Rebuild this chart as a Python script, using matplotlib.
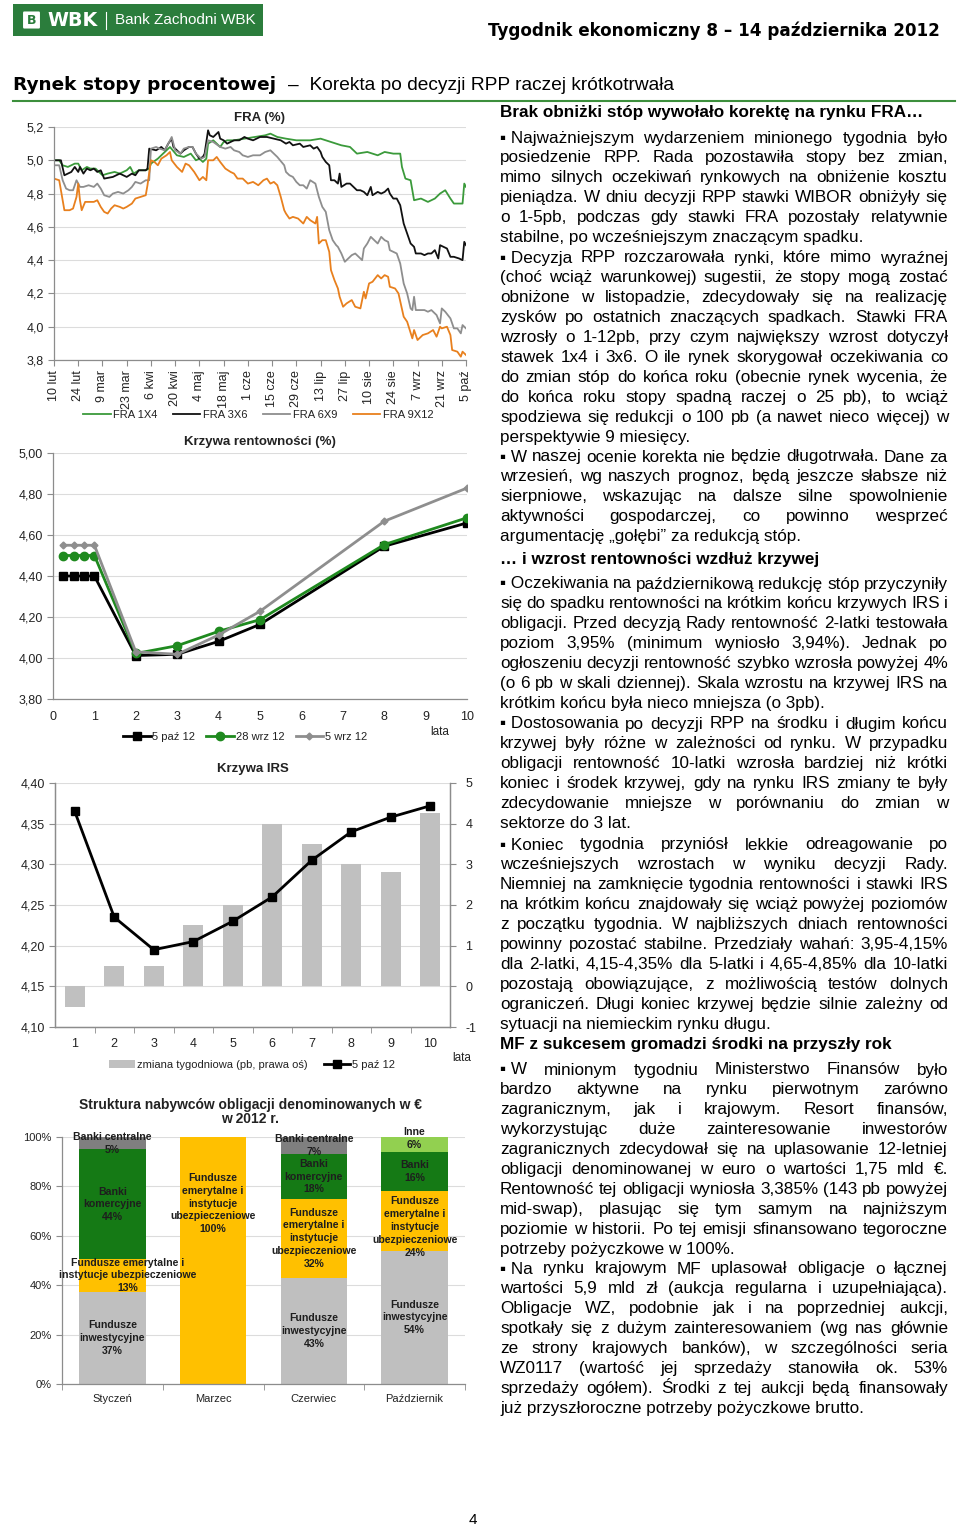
import numpy as np
import matplotlib
matplotlib.use('Agg')
import matplotlib.pyplot as plt
from matplotlib.patches import Rectangle, FancyBboxPatch
from matplotlib.lines import Line2D
from matplotlib.ticker import FuncFormatter

# ---------------- data ----------------
# FRA rates, x = days since 10 Feb 2012
fra_tick_labels = ['10 lut', '24 lut', '9 mar', '23 mar', '6 kwi', '20 kwi', '4 maj', '18 maj',
                   '1 cze', '15 cze', '29 cze', '13 lip', '27 lip', '10 sie', '24 sie',
                   '7 wrz', '21 wrz', '5 paź']

fra1x4_days = [0, 3, 5, 8, 12, 14, 16, 19, 21, 24,
               26, 28, 31, 35, 38, 42, 44, 46, 49, 53,
               55, 56, 60, 64, 67, 71, 75, 79, 82, 84,
               86, 88, 89, 92, 96, 98, 100, 104, 110, 116,
               122, 125, 129, 134, 140, 148, 154, 160, 166, 171,
               175, 181, 187, 191, 196, 200, 201, 203, 206, 208,
               212, 216, 220, 223, 226, 229, 231, 236, 237, 238]
fra1x4 = [5.00, 5.00, 4.97, 4.96, 4.98, 4.98, 4.94, 4.96, 4.95, 4.95,
          4.93, 4.91, 4.92, 4.93, 4.92, 4.94, 4.96, 4.92, 4.94, 4.94,
          4.95, 4.98, 5.01, 5.05, 5.08, 5.03, 5.02, 5.04, 5.00, 5.01,
          4.99, 5.01, 5.10, 5.12, 5.08, 5.11, 5.12, 5.12, 5.13, 5.14,
          5.15, 5.16, 5.14, 5.13, 5.12, 5.12, 5.13, 5.11, 5.09, 5.08,
          5.04, 5.05, 5.03, 5.05, 5.04, 5.04, 4.96, 4.89, 4.88, 4.76,
          4.77, 4.75, 4.77, 4.80, 4.82, 4.77, 4.74, 4.74, 4.86, 4.84]

fra3x6_days = [0, 4, 6, 10, 12, 14, 15, 17, 19, 21,
               23, 25, 27, 29, 34, 38, 42, 45, 47, 49,
               53, 54, 55, 59, 62, 64, 66, 68, 69, 71,
               73, 75, 78, 80, 82, 84, 86, 87, 89, 90,
               92, 95, 96, 98, 100, 102, 104, 107, 110, 112,
               115, 119, 123, 127, 131, 134, 136, 138, 142, 144,
               148, 150, 152, 154, 155, 157, 159, 160, 162, 164,
               165, 166, 169, 171, 173, 175, 177, 179, 181, 183,
               184, 187, 189, 191, 193, 194, 196, 198, 200, 202,
               204, 206, 208, 209, 212, 214, 216, 218, 220, 222,
               223, 225, 227, 229, 231, 234, 236, 237, 238]
fra3x6 = [5.00, 5.00, 4.91, 4.93, 4.96, 4.93, 4.96, 4.92, 4.95, 4.94,
          4.95, 4.93, 4.94, 4.89, 4.90, 4.92, 4.90, 4.92, 4.91, 4.94,
          4.94, 4.95, 5.07, 5.06, 5.08, 5.06, 5.10, 5.13, 5.08, 5.06,
          5.04, 5.06, 5.08, 5.08, 5.04, 5.01, 5.02, 5.04, 5.18, 5.15,
          5.14, 5.17, 5.13, 5.12, 5.10, 5.11, 5.12, 5.12, 5.14, 5.13,
          5.12, 5.14, 5.14, 5.13, 5.12, 5.10, 5.11, 5.09, 5.10, 5.08,
          5.09, 5.07, 5.08, 5.05, 5.02, 4.99, 4.97, 4.88, 4.88, 4.86,
          4.92, 4.84, 4.86, 4.86, 4.84, 4.82, 4.82, 4.81, 4.79, 4.84,
          4.79, 4.81, 4.80, 4.81, 4.83, 4.80, 4.77, 4.77, 4.73, 4.62,
          4.56, 4.50, 4.48, 4.44, 4.44, 4.43, 4.44, 4.44, 4.46, 4.41,
          4.49, 4.48, 4.47, 4.42, 4.42, 4.41, 4.40, 4.51, 4.49]

fra6x9_days = [0, 3, 5, 7, 9, 11, 13, 15, 17, 20,
               23, 25, 27, 29, 32, 34, 37, 40, 43, 45,
               47, 50, 53, 55, 56, 59, 61, 64, 66, 68,
               70, 73, 75, 78, 80, 82, 85, 87, 89, 92,
               96, 99, 102, 104, 107, 109, 112, 115, 119, 122,
               125, 127, 129, 133, 134, 136, 138, 140, 142, 144,
               146, 148, 151, 153, 155, 157, 159, 161, 163, 164,
               166, 168, 170, 172, 174, 176, 178, 179, 181, 183,
               185, 187, 189, 191, 193, 194, 196, 198, 200, 202,
               204, 206, 207, 208, 209, 212, 214, 216, 218, 221,
               223, 224, 226, 229, 231, 233, 235, 236, 238]
fra6x9 = [4.97, 4.97, 4.88, 4.83, 4.82, 4.82, 4.88, 4.84, 4.84, 4.85,
          4.84, 4.86, 4.83, 4.79, 4.78, 4.80, 4.81, 4.80, 4.82, 4.84,
          4.87, 4.86, 4.88, 4.88, 5.07, 5.08, 5.07, 5.06, 5.10, 5.14,
          5.06, 5.04, 5.07, 5.08, 5.08, 5.04, 5.01, 5.02, 5.12, 5.11,
          5.08, 5.07, 5.08, 5.06, 5.05, 5.03, 5.02, 5.03, 5.03, 5.05,
          5.06, 5.04, 5.02, 4.97, 4.93, 4.91, 4.90, 4.87, 4.85, 4.85,
          4.83, 4.88, 4.86, 4.78, 4.72, 4.69, 4.58, 4.52, 4.49, 4.48,
          4.44, 4.39, 4.41, 4.43, 4.44, 4.42, 4.40, 4.47, 4.50, 4.54,
          4.52, 4.50, 4.54, 4.52, 4.51, 4.46, 4.45, 4.44, 4.38, 4.26,
          4.20, 4.11, 4.10, 4.18, 4.10, 4.10, 4.10, 4.09, 4.10, 4.07,
          4.02, 4.11, 4.09, 4.05, 3.99, 3.99, 3.96, 4.01, 3.99]

fra9x12_days = [0, 3, 5, 6, 9, 11, 13, 14, 15, 16,
                18, 20, 23, 25, 27, 29, 31, 33, 35, 38,
                40, 42, 45, 47, 50, 53, 54, 56, 58, 60,
                62, 65, 67, 68, 71, 74, 76, 78, 81, 84,
                86, 88, 89, 92, 94, 96, 99, 102, 104, 106,
                109, 112, 115, 118, 121, 123, 125, 127, 129, 131,
                133, 134, 136, 138, 141, 144, 146, 148, 151, 152,
                153, 155, 157, 159, 160, 162, 164, 165, 167, 169,
                172, 174, 177, 179, 180, 182, 184, 187, 189, 191,
                193, 194, 197, 199, 202, 204, 207, 208, 210, 213,
                216, 219, 221, 223, 224, 227, 229, 230, 233, 235,
                236, 238]
fra9x12 = [4.89, 4.88, 4.76, 4.70, 4.70, 4.71, 4.78, 4.86, 4.76, 4.70,
           4.75, 4.75, 4.75, 4.76, 4.72, 4.69, 4.68, 4.71, 4.73, 4.72,
           4.71, 4.72, 4.74, 4.77, 4.78, 4.79, 4.85, 5.00, 4.99, 4.97,
           5.01, 5.03, 5.05, 5.00, 4.96, 4.93, 4.98, 4.97, 4.93, 4.88,
           4.90, 4.88, 5.00, 5.00, 5.02, 4.99, 4.95, 4.93, 4.92, 4.89,
           4.89, 4.86, 4.87, 4.85, 4.88, 4.89, 4.86, 4.87, 4.85, 4.78,
           4.70, 4.68, 4.65, 4.66, 4.65, 4.62, 4.66, 4.64, 4.62, 4.66,
           4.50, 4.52, 4.52, 4.45, 4.34, 4.28, 4.23, 4.18, 4.12, 4.14,
           4.16, 4.12, 4.11, 4.21, 4.17, 4.26, 4.27, 4.31, 4.29, 4.31,
           4.30, 4.24, 4.23, 4.20, 4.06, 4.03, 3.93, 3.98, 3.92, 3.95,
           3.96, 3.98, 3.94, 4.00, 3.99, 4.00, 3.95, 3.86, 3.85, 3.82,
           3.85, 3.83]

# yield curve
yc_years = [0.25, 0.5, 0.75, 1, 2, 3, 4, 5, 8, 10]
yc_5paz = [4.40, 4.40, 4.40, 4.40, 4.012, 4.018, 4.081, 4.164, 4.545, 4.659]
yc_28wrz = [4.50, 4.50, 4.50, 4.50, 4.022, 4.060, 4.130, 4.187, 4.553, 4.684]
yc_5wrz = [4.55, 4.55, 4.55, 4.55, 4.030, 4.018, 4.112, 4.228, 4.667, 4.829]

# IRS curve
irs_years = [1, 2, 3, 4, 5, 6, 7, 8, 9, 10]
irs_5paz = [4.365, 4.235, 4.195, 4.205, 4.230, 4.260, 4.305, 4.340, 4.358, 4.372]
irs_change = [-0.5, 0.5, 0.5, 1.5, 2.0, 4.0, 3.5, 3.0, 2.8, 4.25]

# buyers of EUR bonds
buyer_months = ['Styczeń', 'Marzec', 'Czerwiec', 'Październik']
buyer_groups = ['Fundusze inwestycyjne', 'Fundusze emerytalne i instytucje ubezpieczeniowe',
                'Banki komercyjne', 'Banki centralne', 'Inne']
buyer_shares = [[37, 0, 43, 54],
                [13, 100, 32, 24],
                [44, 0, 18, 16],
                [5, 0, 7, 0],
                [0, 0, 0, 6]]
buyer_labels = [
    ['Fundusze\ninwestycyjne', 'Fundusze emerytalne i\ninstytucje ubezpieczeniowe',
     'Banki\nkomercyjne', 'Banki centralne', ''],
    ['', 'Fundusze\nemerytalne i\ninstytucje\nubezpieczeniowe', '', '', ''],
    ['Fundusze\ninwestycyjne', 'Fundusze\nemerytalne i\ninstytucje\nubezpieczeniowe',
     'Banki\nkomercyjne', 'Banki centralne', ''],
    ['Fundusze\ninwestycyjne', 'Fundusze\nemerytalne i\ninstytucje\nubezpieczeniowe',
     'Banki', '', 'Inne'],
]
buyer_colors = ['#bfbfbf', '#ffc000', '#157a15', '#7f7f7f', '#92d050']

# text column
head1 = 'Brak obniżki stóp wywołało korektę na rynku FRA…'
par1 = ['▪ Najważniejszym wydarzeniem minionego tygodnia było',
        'posiedzenie RPP. Rada pozostawiła stopy bez zmian,',
        'mimo silnych oczekiwań rynkowych na obniżenie kosztu',
        'pieniądza. W dniu decyzji RPP stawki WIBOR obniżyły się',
        'o 1-5pb, podczas gdy stawki FRA pozostały relatywnie',
        'stabilne, po wcześniejszym znaczącym spadku.']
par2 = ['▪ Decyzja RPP rozczarowała rynki, które mimo wyraźnej',
        '(choć wciąż warunkowej) sugestii, że stopy mogą zostać',
        'obniżone w listopadzie, zdecydowały się na realizację',
        'zysków po ostatnich znaczących spadkach. Stawki FRA',
        'wzrosły o 1-12pb, przy czym największy wzrost dotyczył',
        'stawek 1x4 i 3x6. O ile rynek skorygował oczekiwania co',
        'do zmian stóp do końca roku (obecnie rynek wycenia, że',
        'do końca roku stopy spadną raczej o 25 pb), to wciąż',
        'spodziewa się redukcji o 100 pb (a nawet nieco więcej) w',
        'perspektywie 9 miesięcy.']
par3 = ['▪ W naszej ocenie korekta nie będzie długotrwała. Dane za',
        'wrzesień, wg naszych prognoz, będą jeszcze słabsze niż',
        'sierpniowe, wskazując na dalsze silne spowolnienie',
        'aktywności gospodarczej, co powinno wesprzeć',
        'argumentację „gołębi” za redukcją stóp.']
head2 = '… i wzrost rentowności wzdłuż krzywej'
par4 = ['▪ Oczekiwania na październikową redukcję stóp przyczyniły',
        'się do spadku rentowności na krótkim końcu krzywych IRS i',
        'obligacji. Przed decyzją Rady rentowność 2-latki testowała',
        'poziom 3,95% (minimum wyniosło 3,94%). Jednak po',
        'ogłoszeniu decyzji rentowność szybko wzrosła powyżej 4%',
        '(o 6 pb w skali dziennej). Skala wzrostu na krzywej IRS na',
        'krótkim końcu była nieco mniejsza (o 3pb).']
par5 = ['▪ Dostosowania po decyzji RPP na środku i długim końcu',
        'krzywej były różne w zależności od rynku. W przypadku',
        'obligacji rentowność 10-latki wzrosła bardziej niż krótki',
        'koniec i środek krzywej, gdy na rynku IRS zmiany te były',
        'zdecydowanie mniejsze w porównaniu do zmian w',
        'sektorze do 3 lat.']
par6 = ['▪ Koniec tygodnia przyniósł lekkie odreagowanie po',
        'wcześniejszych wzrostach w wyniku decyzji Rady.',
        'Niemniej na zamknięcie tygodnia rentowności i stawki IRS',
        'na krótkim końcu znajdowały się wciąż powyżej poziomów',
        'z początku tygodnia. W najbliższych dniach rentowności',
        'powinny pozostać stabilne. Przedziały wahań: 3,95-4,15%',
        'dla 2-latki, 4,15-4,35% dla 5-latki i 4,65-4,85% dla 10-latki',
        'pozostają obowiązujące, z możliwością testów dolnych',
        'ograniczeń. Długi koniec krzywej będzie silnie zależny od',
        'sytuacji na niemieckim rynku długu.']
head3 = 'MF z sukcesem gromadzi środki na przyszły rok'
par7 = ['▪ W minionym tygodniu Ministerstwo Finansów było',
        'bardzo aktywne na rynku pierwotnym zarówno',
        'zagranicznym, jak i krajowym. Resort finansów,',
        'wykorzystując duże zainteresowanie inwestorów',
        'zagranicznych zdecydował się na uplasowanie 12-letniej',
        'obligacji denominowanej w euro o wartości 1,75 mld €.',
        'Rentowność tej obligacji wyniosła 3,385% (143 pb powyżej',
        'mid-swap), plasując się tym samym na najniższym',
        'poziomie w historii. Po tej emisji sfinansowano tegoroczne',
        'potrzeby pożyczkowe w 100%.']
par8 = ['▪ Na rynku krajowym MF uplasował obligacje o łącznej',
        'wartości 5,9 mld zł (aukcja regularna i uzupełniająca).',
        'Obligacje WZ, podobnie jak i na poprzedniej aukcji,',
        'spotkały się z dużym zainteresowaniem (wg nas głównie',
        'ze strony krajowych banków), w szczególności seria',
        'WZ0117 (wartość jej sprzedaży stanowiła ok. 53%',
        'sprzedaży ogółem). Środki z tej aukcji będą finansowały',
        'już przyszłoroczne potrzeby pożyczkowe brutto.']

# ---------------- page ----------------
plt.rcParams['font.family'] = ['Liberation Sans', 'DejaVu Sans']
plt.rcParams['axes.unicode_minus'] = False
W, H = 960, 1527
fig = plt.figure(figsize=(9.6, 15.27), dpi=100)
fig.patch.set_facecolor('white')
renderer = fig.canvas.get_renderer()


def fx(x):
    return x / W


def fy(y):
    return 1 - y / H


def put(x, y, s, **kw):
    return fig.text(fx(x), fy(y), s, **kw)


def axes_px(l, t, r, b):
    return fig.add_axes([fx(l), fy(b), (r - l) / W, (b - t) / H])


def comma(fmt):
    return FuncFormatter(lambda v, _: fmt.format(v).replace('.', ','))


def fit(t, width):
    w = t.get_window_extent(renderer).width
    t.set_fontsize(t.get_fontsize() * width / w)


GREEN = '#2b7d3c'
TXT = '#222222'
LEG = dict(frameon=False, fontsize=8, labelcolor=TXT)

# header
fig.patches.append(Rectangle((fx(13), fy(36)), 250 / W, 32 / H, transform=fig.transFigure,
                             facecolor=GREEN, edgecolor='none'))
fig.patches.append(FancyBboxPatch((fx(24), fy(27)), 15 / W, 14 / H, transform=fig.transFigure,
                                  boxstyle='round,pad=0.001', facecolor='white', edgecolor='none'))
put(31.5, 20.5, 'B', color=GREEN, fontsize=9, fontweight='bold', ha='center', va='center',
    family='DejaVu Sans')
t = put(47, 20.5, 'WBK', color='white', fontsize=9, fontweight='heavy', ha='left', va='center',
        family='DejaVu Sans')
fit(t, 50)
fig.lines.append(Line2D([fx(106), fx(106)], [fy(12), fy(29)], transform=fig.transFigure,
                        color='white', lw=0.8))
t = put(115, 20.5, 'Bank Zachodni WBK', color='white', fontsize=11, ha='left', va='center')
fit(t, 140)

t = put(940, 31, 'Tygodnik ekonomiczny 8 – 14 października 2012', fontsize=12,
        fontweight='bold', family='DejaVu Sans', ha='right', va='center', color='black')
fit(t, 450)
t = put(13, 85, 'Rynek stopy procentowej', fontsize=14, fontweight='bold',
        family='DejaVu Sans', ha='left', va='center', color='black')
fit(t, 264)
t = put(288, 85, '–  Korekta po decyzji RPP raczej krótkotrwała', fontsize=13,
        ha='left', va='center', color='black')
fit(t, 387)
fig.lines.append(Line2D([fx(13), fx(955)], [fy(101), fy(101)], transform=fig.transFigure,
                        color='#3c8f3c', lw=1.5))
put(473, 1520, '4', fontsize=11, ha='center', va='center')


def style(ax, sides=('left', 'bottom'), size=8.5):
    for s in ax.spines:
        ax.spines[s].set_visible(s in sides)
        ax.spines[s].set_color('#8c8c8c')
        ax.spines[s].set_linewidth(0.9)
    ax.tick_params(colors='#8c8c8c', labelcolor=TXT, labelsize=size, length=4, width=0.8)
    ax.set_axisbelow(True)
    ax.grid(axis='y', color='#dcdcdc', lw=0.8)
    ax.grid(axis='x', visible=False)


# ---- FRA chart ----
ax1 = axes_px(54, 127, 466, 360)
fra_series = [(fra1x4_days, fra1x4, '#3b9a3b', 'FRA 1X4'),
              (fra3x6_days, fra3x6, '#111111', 'FRA 3X6'),
              (fra6x9_days, fra6x9, '#8e8e8e', 'FRA 6X9'),
              (fra9x12_days, fra9x12, '#e8801e', 'FRA 9X12')]
for d, v, c, lab in fra_series:
    ax1.plot(d, v, color=c, lw=1.3, label=lab)
ax1.set_xlim(0, 238)
ax1.set_ylim(3.8, 5.2)
ax1.set_yticks(np.arange(3.8, 5.201, 0.2))
ax1.yaxis.set_major_formatter(comma('{:.1f}'))
ax1.set_xticks(np.arange(0, 239, 14))
ax1.set_xticklabels(fra_tick_labels, rotation=90)
style(ax1, size=9)
ax1.set_title('FRA (%)', fontsize=9.5, fontweight='bold', pad=4, color=TXT)
ax1.legend(loc='center', bbox_to_anchor=(fx(258), fy(415)), bbox_transform=fig.transFigure,
           ncol=4, handlelength=2.5, columnspacing=1.4, handletextpad=0.2, **LEG)

# ---- yield curve ----
ax2 = axes_px(53, 453, 467, 699)
ax2.plot(yc_years, yc_5paz, color='black', lw=2, marker='s', ms=6, label='5 paź 12')
ax2.plot(yc_years, yc_28wrz, color='#1f8a1f', lw=2, marker='o', ms=6, label='28 wrz 12')
ax2.plot(yc_years, yc_5wrz, color='#8e8e8e', lw=2, marker='D', ms=3.5, label='5 wrz 12')
ax2.set_xlim(0, 10)
ax2.set_ylim(3.8, 5.0)
ax2.set_xticks(range(0, 11))
ax2.set_yticks(np.arange(3.8, 5.001, 0.2))
ax2.yaxis.set_major_formatter(comma('{:.2f}'))
style(ax2, size=9)
ax2.tick_params(axis='x', length=0, pad=9)
ax2.set_title('Krzywa rentowności (%)', fontsize=9.5, fontweight='bold', pad=6, color=TXT)
put(440, 732, 'lata', fontsize=8.5, ha='center', va='center', color=TXT)
ax2.legend(loc='center', bbox_to_anchor=(fx(245), fy(737)), bbox_transform=fig.transFigure,
           ncol=3, handlelength=2.5, columnspacing=1.0, handletextpad=0.15, **LEG)

# ---- IRS ----
ax3 = axes_px(55, 783, 450, 1027)
ax3r = ax3.twinx()
ax3r.bar(irs_years, irs_change, width=0.5, color='#c0c0c0', label='zmiana tygodniowa (pb, prawa oś)')
ax3.plot(irs_years, irs_5paz, color='black', lw=2, marker='s', ms=5.5, label='5 paź 12')
ax3.set_zorder(ax3r.get_zorder() + 1)
ax3.patch.set_visible(False)
ax3.set_xlim(0.5, 10.5)
ax3.set_ylim(4.10, 4.40)
ax3.set_yticks(np.arange(4.10, 4.401, 0.05))
ax3.yaxis.set_major_formatter(comma('{:.2f}'))
ax3r.set_ylim(-1, 5)
ax3r.set_yticks(range(-1, 6))
ax3.set_xticks(irs_years)
ax3.set_xticks(np.arange(1.5, 10, 1), minor=True)
style(ax3, sides=('left', 'bottom', 'right'), size=9)
style(ax3r, sides=('left', 'bottom', 'right'), size=9)
ax3.grid(False)
ax3.tick_params(axis='x', which='major', length=0, pad=8)
ax3.tick_params(axis='x', which='minor', length=4, colors='#8c8c8c')
ax3r.tick_params(axis='y', pad=7)
ax3.set_title('Krzywa IRS', fontsize=9.5, fontweight='bold', pad=8, color=TXT)
put(462, 1058, 'lata', fontsize=8.5, ha='center', va='center', color=TXT)
h1, l1 = ax3r.get_legend_handles_labels()
h2, l2 = ax3.get_legend_handles_labels()
ax3.legend(h1 + h2, l1 + l2, loc='center', bbox_to_anchor=(fx(252), fy(1065)),
           bbox_transform=fig.transFigure, ncol=2, handlelength=2.4, columnspacing=1.4,
           handletextpad=0.2, **LEG)

# ---- buyers structure ----
ax4 = axes_px(62, 1137, 465, 1384)
shares = np.array(buyer_shares, dtype=float)
pct = shares / shares.sum(axis=0) * 100
xpos = np.arange(len(buyer_months))
bottom = np.zeros(len(buyer_months))
label_shift = {(0, 1): (0.15, 0.0), (1, 1): (0.0, 23.0), (3, 1): (0.0, -2.4), (3, 4): (0.0, 2.5)}
for gi, (grp, col) in enumerate(zip(buyer_groups, buyer_colors)):
    ax4.bar(xpos, pct[gi], bottom=bottom, width=0.66, color=col, label=grp)
    for ci in range(len(buyer_months)):
        if shares[gi, ci] > 0:
            dx, dy = label_shift.get((ci, gi), (0.0, 0.0))
            s = buyer_labels[ci][gi] + '\n' + f'{int(shares[gi, ci])}%'
            ax4.text(xpos[ci] + dx, bottom[ci] + pct[gi, ci] / 2 + dy, s, ha='center', va='center',
                     fontsize=7.6, fontweight='bold', color='#1e1e1e', linespacing=1.35)
    bottom = bottom + pct[gi]
ax4.set_xlim(-0.5, 3.5)
ax4.set_ylim(0, 100)
ax4.set_yticks(range(0, 101, 20))
ax4.yaxis.set_major_formatter(FuncFormatter(lambda v, _: f'{v:.0f}%'))
ax4.set_xticks(xpos)
ax4.set_xticklabels(buyer_months)
ax4.set_xticks(np.arange(-0.5, 3.6, 1), minor=True)
style(ax4, size=8)
ax4.tick_params(axis='x', which='major', length=0, pad=7)
ax4.tick_params(axis='x', which='minor', length=4, colors='#8c8c8c')
put(250, 1112, 'Struktura nabywców obligacji denominowanych w €\nw 2012 r.', fontsize=10,
    fontweight='bold', ha='center', va='center', linespacing=1.0, color=TXT)

# ---- text column ----
X0, X1 = 500, 948
STEP = 19.93
probe = put(0, 0, 'stabilne, po wcześniejszym znaczącym spadku.', fontsize=10)
body_size = 10 * 362 / probe.get_window_extent(renderer).width
probe.remove()


def justify(line, y, last):
    if last:
        put(X0, y, line, fontsize=body_size, ha='left', va='center', color='black')
        return
    words = line.split(' ')
    if words[0] == '▪':
        words = ['▪ ' + words[1]] + words[2:]
    texts = [put(X0, y, w, fontsize=body_size, ha='left', va='center', color='black') for w in words]
    widths = [tt.get_window_extent(renderer).width for tt in texts]
    gap = (X1 - X0 - sum(widths)) / max(len(words) - 1, 1)
    x = X0
    for tt, w in zip(texts, widths):
        tt.set_x(fx(x))
        x += w + gap


blocks = [('h', 113, head1), ('p', 138, par1), ('p', 258, par2), ('p', 457, par3),
          ('h', 560, head2), ('p', 584, par4), ('p', 724, par5), ('p', 845, par6),
          ('h', 1045, head3), ('p', 1070, par7), ('p', 1269, par8)]
for kind, y0, content in blocks:
    if kind == 'h':
        put(X0, y0, content, fontsize=body_size, fontweight='bold', ha='left',
            va='center', color='black')
    else:
        for i, line in enumerate(content):
            justify(line, y0 + i * STEP, i == len(content) - 1)

fig.savefig('out.png', dpi=100)
